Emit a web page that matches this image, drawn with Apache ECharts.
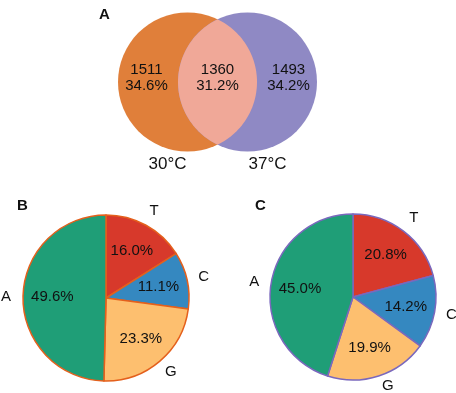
<!DOCTYPE html>
<html>
<head>
<meta charset="utf-8">
<script src="https://cdn.jsdelivr.net/npm/echarts@6/dist/echarts.min.js"></script>
<style>
  html, body { margin: 0; padding: 0; background: #fff; }
  #main { width: 456px; height: 393px; }
</style>
</head>
<body>
<div id="main"></div>
<script>
// venn (panel A)
const vennSets = ['30°C', '37°C'];
const vennCounts = [1511, 1360, 1493];      // 30 only, shared, 37 only
const vennPercents = [34.6, 31.2, 34.2];

// base composition (panels B, C)
const bases = ['T', 'C', 'G', 'A'];
const pctB = [16.0, 11.1, 23.3, 49.6];
const pctC = [20.8, 14.2, 19.9, 45.0];
const baseColors = ['#d7392b', '#3588c0', '#fdbf6f', '#1f9e77'];

const FONT = '"Liberation Sans", Arial, sans-serif';

let chart = echarts.init(document.getElementById('main'));

// venn geometry
const V = {lx: 187.5, rx: 247.5, cy: 82, r: 69.5};
const vennColors = ['#e07f3a', '#f0a898', '#8f89c4'];

function vennText(x, y, txt, size) {
    return {
        type: 'text', x: x, y: y, z2: 10,
        style: {text: txt, fill: '#111', fontSize: size, fontFamily: FONT,
            align: 'center', verticalAlign: 'middle', lineHeight: 16}
    };
}

function lensPoints() {
    // intersection of the two circles
    let half = (V.rx - V.lx) / 2;
    let a = Math.acos(half / V.r);
    let pts = [];
    let n = 60;
    // right side of left circle (top -> bottom)
    for (let i = 0; i <= n; i++) {
        let t = -a + 2 * a * i / n;
        pts.push([V.lx + V.r * Math.cos(t), V.cy + V.r * Math.sin(t)]);
    }
    // left side of right circle (bottom -> top)
    for (let i = 0; i <= n; i++) {
        let t = Math.PI - a + 2 * a * i / n;
        pts.push([V.rx + V.r * Math.cos(t), V.cy + V.r * Math.sin(t)]);
    }
    return pts;
}

function renderVenn(params, api) {
    let idx = api.value(0);
    let label = vennCounts[idx] + '\n' + vennPercents[idx].toFixed(1) + '%';
    if (idx === 0) {
        return {type: 'group', children: [
            {type: 'circle', shape: {cx: V.lx, cy: V.cy, r: V.r}, style: {fill: vennColors[0]}},
            vennText(V.lx - 41, V.cy - 4, label, 15),
            vennText(V.lx - 20, 164, vennSets[0], 17)
        ]};
    } else if (idx === 2) {
        return {type: 'group', children: [
            {type: 'circle', shape: {cx: V.rx, cy: V.cy, r: V.r}, style: {fill: vennColors[2]}},
            vennText(V.rx + 41, V.cy - 4, label, 15),
            vennText(V.rx + 20, 164, vennSets[1], 17)
        ]};
    }
    return {type: 'group', children: [
        {type: 'polygon', shape: {points: lensPoints()}, style: {fill: vennColors[1]}},
        vennText((V.lx + V.rx) / 2, V.cy - 4, label, 15)
    ]};
}

// pie helpers
function pieData(pcts, transparent, offsets) {
    return bases.map((b, i) => {
        let d = {
            name: b, value: pcts[i],
            itemStyle: transparent ? {color: 'rgba(0,0,0,0)', borderWidth: 0} : {color: baseColors[i]}
        };
        if (offsets && offsets[b]) d.label = {offset: offsets[b]};
        return d;
    });
}

function pieSeries(center, pcts, border, letterOffsets) {
    const r = 83;
    return [
        {
            type: 'pie', center: center, radius: [0, r], startAngle: 90,
            silent: true, animation: false,
            itemStyle: {borderColor: border, borderWidth: 1.5},
            label: {show: false}, labelLine: {show: false},
            data: pieData(pcts, false)
        },
        {   // percent labels
            type: 'pie', center: center, radius: [r * 0.22, r], startAngle: 90,
            silent: true, animation: false, z: 3,
            label: {show: true, position: 'inside', color: '#111', fontSize: 15, fontFamily: FONT,
                formatter: p => p.value.toFixed(1) + '%'},
            labelLine: {show: false},
            data: pieData(pcts, true)
        },
        {   // base letters
            type: 'pie', center: center, radius: [r + 5, r + 23], startAngle: 90,
            silent: true, animation: false, z: 3,
            label: {show: true, position: 'inside', color: '#111', fontSize: 15, fontFamily: FONT,
                formatter: '{b}'},
            labelLine: {show: false},
            data: pieData(pcts, true, letterOffsets)
        }
    ];
}

const letterStyle = {fontSize: 15, fontWeight: 'bold', color: '#111', fontFamily: FONT};

let option = {
    backgroundColor: '#fff',
    animation: false,
    title: [
        {text: 'A', left: 99, top: 7, padding: 0, textStyle: letterStyle},
        {text: 'B', left: 17, top: 198, padding: 0, textStyle: letterStyle},
        {text: 'C', left: 255, top: 198, padding: 0, textStyle: letterStyle}
    ],
    series: [
        {
            type: 'custom', coordinateSystem: 'none', silent: true,
            renderItem: renderVenn,
            data: [[0], [2], [1]]
        }
    ].concat(pieSeries([106, 298], pctB, '#e4601c', {G: [0, -2]}))
     .concat(pieSeries([353, 297], pctC, '#7a68bd', {G: [4, -6]}))
};

chart.setOption(option);
</script>
</body>
</html>
